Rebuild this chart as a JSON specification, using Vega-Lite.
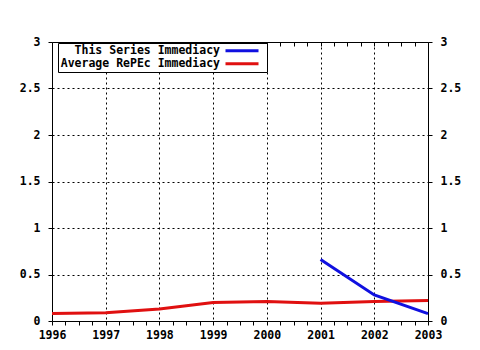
{
  "$schema": "https://vega.github.io/schema/vega-lite/v6.json",
  "autosize": "none",
  "padding": {"left": 52, "top": 42, "right": 52, "bottom": 29},
  "width": 376,
  "height": 279,
  "background": "white",
  "config": {
    "view": {"stroke": null},
    "axis": {"labelFont": "DejaVu Sans Mono", "labelFontWeight": "bold", "labelFontSize": 11.5, "labelColor": "black", "domainColor": "black", "tickColor": "black", "title": null},
    "legend": {"labelFont": "DejaVu Sans Mono", "labelFontWeight": "bold", "labelFontSize": 11.5, "labelColor": "black"}
  },
  "data": {"values": [
    {"year": 1996, "value": 0.08, "series": "Average RePEc Immediacy"},
    {"year": 1997, "value": 0.09, "series": "Average RePEc Immediacy"},
    {"year": 1998, "value": 0.13, "series": "Average RePEc Immediacy"},
    {"year": 1999, "value": 0.2, "series": "Average RePEc Immediacy"},
    {"year": 2000, "value": 0.21, "series": "Average RePEc Immediacy"},
    {"year": 2001, "value": 0.19, "series": "Average RePEc Immediacy"},
    {"year": 2002, "value": 0.21, "series": "Average RePEc Immediacy"},
    {"year": 2003, "value": 0.22, "series": "Average RePEc Immediacy"},
    {"year": 2001, "value": 0.66, "series": "This Series Immediacy"},
    {"year": 2002, "value": 0.28, "series": "This Series Immediacy"},
    {"year": 2003, "value": 0.08, "series": "This Series Immediacy"}
  ]},
  "encoding": {
    "x": {"field": "year", "type": "quantitative", "scale": {"domain": [1996, 2003], "nice": false, "zero": false}},
    "y": {"field": "value", "type": "quantitative", "scale": {"domain": [0, 3], "nice": false}},
    "color": {
      "field": "series", "type": "nominal",
      "scale": {"domain": ["This Series Immediacy", "Average RePEc Immediacy"], "range": ["#1010e0", "#e01010"]},
      "legend": {
        "title": null, "orient": "none", "legendX": 6, "legendY": 1,
        "symbolType": "M-4.125,0H4.125", "symbolStrokeWidth": 3, "symbolSize": 64,
        "strokeColor": "black", "padding": 2, "rowPadding": 0, "fillColor": "white",
        "encode": {
          "labels": {"update": {"x": {"value": 160}, "align": {"value": "right"}}},
          "symbols": {"update": {"x": {"value": 182}}}
        }
      }
    }
  },
  "layer": [
    {
      "transform": [{"filter": "datum.series == 'Average RePEc Immediacy'"}],
      "mark": {"type": "line", "strokeWidth": 3},
      "encoding": {
        "x": {"field": "year", "type": "quantitative", "axis": {
          "orient": "bottom",
          "values": [1996, 1996.25, 1996.5, 1996.75, 1997, 1997.25, 1997.5, 1997.75, 1998, 1998.25, 1998.5, 1998.75, 1999, 1999.25, 1999.5, 1999.75, 2000, 2000.25, 2000.5, 2000.75, 2001, 2001.25, 2001.5, 2001.75, 2002, 2002.25, 2002.5, 2002.75, 2003],
          "labelExpr": "datum.value % 1 == 0 ? datum.value : ''",
          "labelOverlap": false, "labelFlush": false,
          "tickSize": 4, "labelPadding": 4,
          "grid": true, "gridColor": "black", "gridDash": [2, 3],
          "gridOpacity": {"condition": {"test": "datum.value % 1 == 0 && datum.value > 1996 && datum.value < 2003", "value": 1}, "value": 0}
        }},
        "y": {"field": "value", "type": "quantitative", "axis": {
          "orient": "left", "values": [0, 0.5, 1, 1.5, 2, 2.5, 3], "format": "~g",
          "tickSize": 4, "labelPadding": 8,
          "grid": true, "gridColor": "black", "gridDash": [2, 3],
          "gridOpacity": {"condition": {"test": "datum.value > 0 && datum.value < 3", "value": 1}, "value": 0}
        }}
      }
    },
    {
      "transform": [{"filter": "datum.series == 'This Series Immediacy'"}],
      "mark": {"type": "line", "strokeWidth": 3},
      "encoding": {
        "x": {"field": "year", "type": "quantitative", "axis": {
          "orient": "top",
          "values": [1996, 1996.25, 1996.5, 1996.75, 1997, 1997.25, 1997.5, 1997.75, 1998, 1998.25, 1998.5, 1998.75, 1999, 1999.25, 1999.5, 1999.75, 2000, 2000.25, 2000.5, 2000.75, 2001, 2001.25, 2001.5, 2001.75, 2002, 2002.25, 2002.5, 2002.75, 2003],
          "labels": false, "tickSize": -4, "grid": false
        }},
        "y": {"field": "value", "type": "quantitative", "axis": {
          "orient": "right", "values": [0, 0.5, 1, 1.5, 2, 2.5, 3], "format": "~g",
          "tickSize": 4, "labelPadding": 8, "grid": false
        }}
      }
    }
  ],
  "resolve": {"axis": {"x": "independent", "y": "independent"}}
}
